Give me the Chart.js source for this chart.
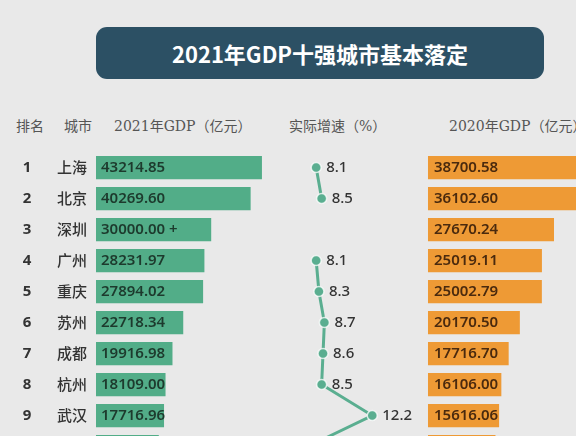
<!DOCTYPE html>
<html lang="zh">
<head>
<meta charset="UTF-8">
<title>2021年GDP十强城市基本落定</title>
<script src="https://cdn.jsdelivr.net/npm/chart.js@4.4.0/dist/chart.umd.min.js"></script>
<style>
  html, body { margin: 0; padding: 0; width: 576px; height: 436px; overflow: hidden; background: #e9e9e9; }
  body { position: relative; font-family: "Noto Sans", "Noto Sans CJK SC", sans-serif; }
  #title {
    position: absolute; left: 96px; top: 27px; width: 448px; height: 52px;
    background: #2c5064; border-radius: 11px; color: #fff;
    font: bold 22px "Noto Sans CJK SC", sans-serif; line-height: 52px; text-align: center;
  }
  .head { position: absolute; top: 115px; font-size: 14px; color: #555; white-space: nowrap;
    font-family: "DejaVu Serif", "Noto Sans CJK SC", serif; }
  #chart { position: absolute; left: 0; top: 0; }
</style>
</head>
<body>
<div id="title">2021年GDP十强城市基本落定</div>
<span class="head" style="left:16px">排名</span>
<span class="head" style="left:64px">城市</span>
<span class="head" style="left:114px">2021年GDP（亿元）</span>
<span class="head" style="left:289px">实际增速（%）</span>
<span class="head" style="left:449px">2020年GDP（亿元）</span>
<canvas id="chart" width="576" height="480"></canvas>

<script>
// data
const ranks = ['1', '2', '3', '4', '5', '6', '7', '8', '9', '10'];
const cities = ['上海', '北京', '深圳', '广州', '重庆', '苏州', '成都', '杭州', '武汉', '南京'];
const gdp2021 = [43214.85, 40269.60, 30000.00, 28231.97, 27894.02, 22718.34, 19916.98, 18109.00, 17716.96, 16355.32];
const gdp2021Labels = ['43214.85', '40269.60', '30000.00 +', '28231.97', '27894.02', '22718.34', '19916.98', '18109.00', '17716.96', '16355.32'];
const growth = [8.1, 8.5, null, 8.1, 8.3, 8.7, 8.6, 8.5, 12.2, 7.5];
const gdp2020 = [38700.58, 36102.60, 27670.24, 25019.11, 25002.79, 20170.50, 17716.70, 16106.00, 15616.06, 14817.95];

const GREEN = '#52ad88';
const ORANGE = '#ee9a35';
const LINE = '#5aae90';

// rank, city and value labels
const labelPlugin = {
    id: 'rowLabels',
    afterDatasetsDraw(chart) {
        const ctx = chart.ctx;
        const y = chart.scales.y;
        const xg = chart.scales.xg;
        const xo = chart.scales.xo;
        const xr = chart.scales.xr;
        ctx.save();
        ctx.textBaseline = 'middle';
        cities.forEach((city, i) => {
            const py = y.getPixelForValue(i);
            ctx.fillStyle = '#333';
            ctx.textAlign = 'center';
            ctx.font = 'bold 15px "Noto Sans", sans-serif';
            ctx.fillText(ranks[i], 27, py);
            ctx.textAlign = 'left';
            ctx.font = '500 15px "Noto Sans CJK SC", sans-serif';
            ctx.fillText(city, 57, py);

            ctx.font = '600 15px "Noto Sans", "Noto Sans CJK SC", sans-serif';
            ctx.fillStyle = '#1d3a2d';
            ctx.fillText(gdp2021Labels[i], xg.getPixelForValue(0) + 5, py);
            ctx.fillStyle = '#4a2a0e';
            ctx.fillText(gdp2020[i].toFixed(2), xo.getPixelForValue(0) + 6, py);

            if (growth[i] !== null) {
                ctx.font = '500 15px "Noto Sans", sans-serif';
                ctx.fillStyle = '#333';
                ctx.fillText(growth[i].toFixed(1), xr.getPixelForValue(growth[i]) + 10, py);
            }
        });
        ctx.restore();
    }
};

new Chart(document.getElementById('chart'), {
    data: {
        labels: cities,
        datasets: [
            {
                type: 'line',
                label: '实际增速（%）',
                data: growth,
                xAxisID: 'xr',
                borderColor: LINE,
                borderWidth: 3,
                pointRadius: 5,
                pointBackgroundColor: LINE,
                pointBorderColor: 'rgba(255,255,255,0.75)',
                pointBorderWidth: 1.5,
                spanGaps: false,
                clip: false
            },
            {
                type: 'bar',
                label: '2021年GDP（亿元）',
                data: gdp2021,
                xAxisID: 'xg',
                backgroundColor: GREEN,
                grouped: false,
                barPercentage: 0.75,
                categoryPercentage: 1
            },
            {
                type: 'bar',
                label: '2020年GDP（亿元）',
                data: gdp2020,
                xAxisID: 'xo',
                backgroundColor: ORANGE,
                grouped: false,
                barPercentage: 0.75,
                categoryPercentage: 1
            }
        ]
    },
    options: {
        indexAxis: 'y',
        responsive: false,
        animation: false,
        layout: { autoPadding: false, padding: { left: 96, top: 152, right: 0, bottom: 18 } },
        scales: {
            y: { type: 'category', display: false },
            xg: { type: 'linear', display: false, min: 0, max: 125000 },
            xo: { type: 'linear', display: false, min: -72900, max: 32500 },
            xr: { type: 'linear', display: false, min: -8, max: 27.1 }
        },
        plugins: {
            legend: { display: false },
            tooltip: { enabled: false }
        }
    },
    plugins: [labelPlugin]
});
</script>
</body>
</html>
